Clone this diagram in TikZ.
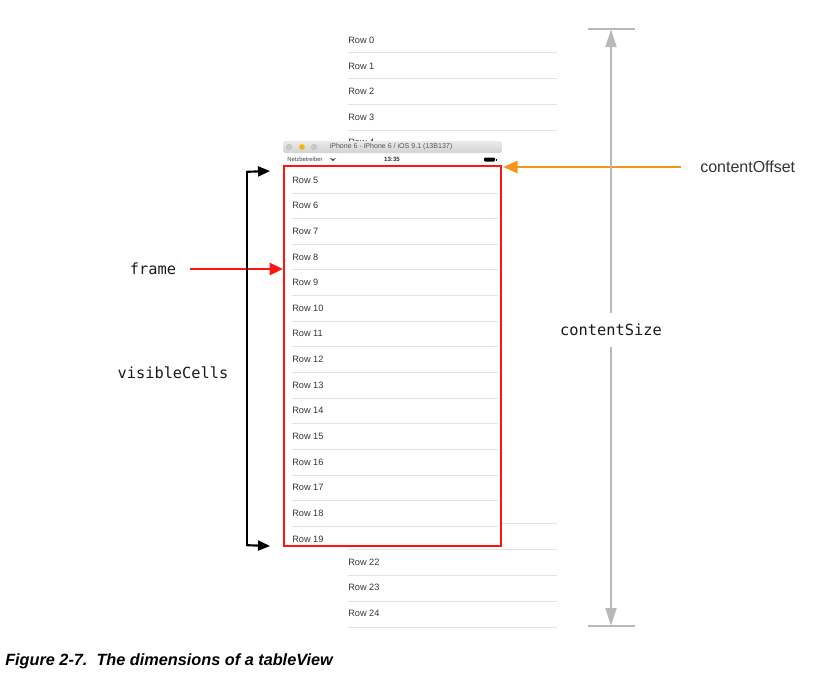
\documentclass[tikz,border=0pt]{standalone}
\usepackage{fontspec}
\setmainfont{Liberation Sans}
\newfontfamily\codefont{DejaVu Sans Mono}
\usetikzlibrary{arrows.meta}
\definecolor{rowtext}{HTML}{333333}
\definecolor{sepline}{HTML}{E3E3E3}
\definecolor{dimgray}{HTML}{B8B8B8}
\definecolor{offsetorange}{HTML}{F7941D}
\definecolor{framered}{HTML}{FF1414}
\definecolor{titletop}{HTML}{EAEAEA}
\definecolor{titlebottom}{HTML}{D2D2D2}
\definecolor{titletext}{HTML}{555555}
\definecolor{lightdot}{HTML}{C8C8C8}
\definecolor{yellowdot}{HTML}{F6B500}
\begin{document}
\begin{tikzpicture}[x=0.75pt,y=-0.75pt,
  rowlabel/.style={anchor=west,inner sep=0pt,font=\fontsize{6.9}{8}\selectfont,text=rowtext},
  rowsep/.style={draw=sepline,line width=0.75pt},
  codelabel/.style={inner sep=0pt,font=\codefont\fontsize{11.5}{13}\selectfont,text=black!90},
  dimline/.style={draw=dimgray,line width=2.2pt},
  dimarrow/.style={dimline,-{Triangle[length=13.5pt,width=8pt]}},
  bracketarrow/.style={draw=black,line width=1.6pt,-{Triangle[length=9pt,width=7.5pt]}},
  redarrow/.style={draw=framered,line width=2pt,-{Triangle[length=10pt,width=9pt]}},
  orangearrow/.style={draw=offsetorange,line width=2pt,-{Triangle[length=11pt,width=9pt]}}]
\useasboundingbox (0,0) rectangle (839,679);

% background table rows (top)
\foreach \r/\y in {0/40,1/66,2/91,3/117,4/142}
  \node[rowlabel] (bgrow\r) at (348,\y) {Row \r};
\foreach \y in {52,78,104,130}
  \draw[rowsep] (348,\y) -- (557,\y);
% background table rows (bottom)
\foreach \r/\y in {22/562,23/587,24/613}
  \node[rowlabel] (bgrow\r) at (348,\y) {Row \r};
\foreach \y in {523,549,575,601,627}
  \draw[rowsep] (348,\y) -- (557,\y);

% simulator window
\fill[white] (283,142) rectangle (502,547);
\shade[top color=titletop,bottom color=titlebottom,rounded corners=2pt] (283,141) rectangle (502,153);
\draw[black!25,line width=0.3pt,fill=lightdot] (289,147) circle (2.8);
\fill[yellowdot] (302,147) circle (2.8);
\draw[black!25,line width=0.3pt,fill=lightdot] (314,147) circle (2.8);
\node[inner sep=0pt,font=\fontsize{5.3}{6}\selectfont,text=titletext] (simtitle) at (391,147) {iPhone 6 - iPhone 6 / iOS 9.1 (13B137)};
\node[inner sep=0pt,anchor=west,font=\fontsize{4.4}{5}\selectfont,text=black!75] (carrier) at (287,159.5) {Netzbetreiber};
\fill[black!75] (333,161) -- ++(-3.2,-3.2) arc[start angle=135,end angle=45,radius=4.5] -- cycle;
\node[inner sep=0pt,font=\bfseries\fontsize{4.6}{5}\selectfont,text=black!80] (clock) at (392,159.5) {13:35};
\fill[black,rounded corners=0.8pt] (484,157.5) rectangle (495,161.5);
\fill[black] (495.5,158.5) rectangle (496.5,160.5);

% visible rows inside the frame
\begin{scope}
  \clip (284,166) rectangle (501,546);
  \foreach \r [evaluate=\r as \y using {180+25.64*(\r-5)}] in {5,...,19}
    \node[rowlabel] (row\r) at (292,\y) {Row \r};
  \foreach \k [evaluate=\k as \y using {193+25.64*\k}] in {0,...,13}
    \draw[rowsep] (292,\y) -- (498,\y);
\end{scope}

% frame rectangle
\node[draw=framered,line width=1.6pt,inner sep=0pt,minimum width=162.75pt,minimum height=285pt] (frm) at (392.5,356) {};

% frame label and arrow
\node[codelabel] (framelbl) at (153,269) {frame};
\draw[redarrow] ([xshift=10pt]framelbl.east) -- (framelbl.east -| frm.west);

% visibleCells bracket
\node[codelabel] (cellslbl) at (173,373) {visibleCells};
\coordinate (brtop) at (247,171);
\coordinate (brbot) at (247,546);
\coordinate (brtoptip) at (270,171);
\coordinate (brbottip) at (270,546);
\draw[black,line width=1.6pt] (brtop) -- (brbot);
\draw[bracketarrow] ([yshift=-0.6pt]brtop) -- (brtoptip);
\draw[bracketarrow] ([yshift=0.6pt]brbot) -- (brbottip);

% contentOffset
\node[inner sep=0pt,anchor=west,font=\fontsize{12}{14}\selectfont,text=black!80] (offlbl) at (700,167) {contentOffset};
\coordinate (offtip) at (503,167);
\draw[orangearrow] ([xshift=-14pt]offlbl.west) -- (offtip);

% contentSize
\node[codelabel] (sizelbl) at (611,330) {contentSize};
\coordinate (cstop) at (611,29);
\coordinate (csbot) at (611,626);
\draw[dimline] (588,29) -- (635,29);
\draw[dimline] (588,626) -- (635,626);
\draw[dimarrow] ([yshift=8pt]sizelbl.north) -- (cstop);
\draw[dimarrow] ([yshift=-8pt]sizelbl.south) -- (csbot);

% caption
\node[anchor=west,inner sep=0pt,font=\bfseries\itshape\fontsize{12.2}{14}\selectfont] (caption) at (5,661) {Figure 2-7.\ \ The dimensions of a tableView};
\end{tikzpicture}
\end{document}
